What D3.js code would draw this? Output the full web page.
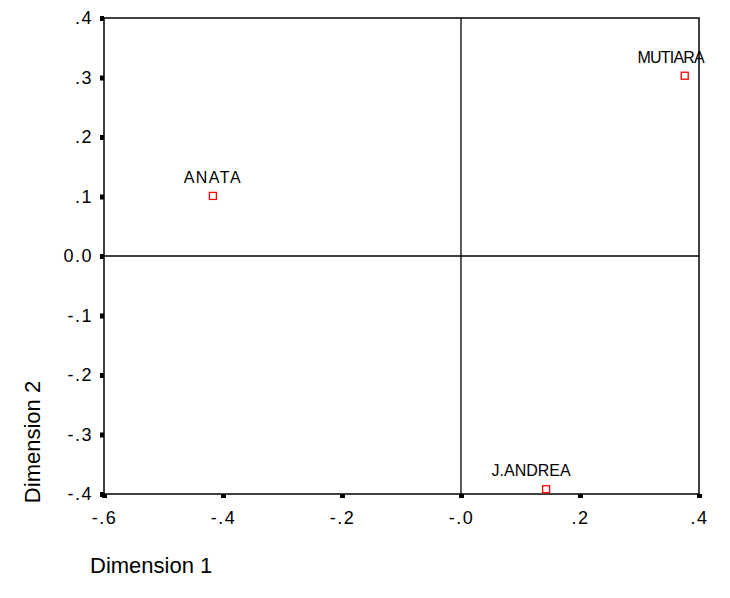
<!DOCTYPE html>
<html>
<head>
<meta charset="utf-8">
<script src="https://cdn.jsdelivr.net/npm/d3@7"></script>
<style>
  body { margin: 0; background: #fff; }
  text { font-family: Arial, "Liberation Sans", sans-serif; fill: #000; }
</style>
</head>
<body>
<div id="chart"></div>
<script>
// data
var names = ["ANATA", "MUTIARA", "J.ANDREA"];
var dim1 = [-0.417, 0.376, 0.143];
var dim2 = [0.101, 0.303, -0.392];
var xTicks = [-0.6, -0.4, -0.2, 0, 0.2, 0.4];
var xTickLabels = ["-.6", "-.4", "-.2", "-.0", ".2", ".4"];
var yTicks = [-0.4, -0.3, -0.2, -0.1, 0, 0.1, 0.2, 0.3, 0.4];
var yTickLabels = ["-.4", "-.3", "-.2", "-.1", "0.0", ".1", ".2", ".3", ".4"];

// label nudges (px) so the point labels sit like in the original
var labelDx = { "ANATA": 0, "MUTIARA": -14, "J.ANDREA": -15 };
var labelSpacing = { "ANATA": 1.5, "MUTIARA": -0.8, "J.ANDREA": 0 };

var W = 730, H = 598;
var plotLeft = 104, plotRight = 699, plotTop = 18, plotBottom = 494;

var svg = d3.select('#chart').append('svg')
    .attr('width', W)
    .attr('height', H);

var x = d3.scaleLinear().domain([-0.6, 0.4]).range([plotLeft, plotRight]);
var y = d3.scaleLinear().domain([-0.4, 0.4]).range([plotBottom, plotTop]);

// frame
svg.append('rect')
    .attr('x', plotLeft).attr('y', plotTop)
    .attr('width', plotRight - plotLeft).attr('height', plotBottom - plotTop)
    .attr('fill', 'none').attr('stroke', '#000').attr('stroke-width', 1.5);

// reference lines through zero
svg.append('line')
    .attr('x1', x(0)).attr('x2', x(0)).attr('y1', plotTop).attr('y2', plotBottom)
    .attr('stroke', '#000').attr('stroke-width', 1.3);
svg.append('line')
    .attr('x1', plotLeft).attr('x2', plotRight).attr('y1', y(0)).attr('y2', y(0))
    .attr('stroke', '#000').attr('stroke-width', 1.3);

// x axis (tick marks are small squares)
var xAxis = d3.axisBottom(x)
    .tickValues(xTicks)
    .tickSize(0)
    .tickPadding(17)
    .tickFormat(function (d, i) { return xTickLabels[i]; });
var gx = svg.append('g')
    .attr('transform', 'translate(0,' + plotBottom + ')')
    .call(xAxis);
gx.select('.domain').remove();
gx.selectAll('.tick text')
    .attr('font-size', 18)
    .attr('letter-spacing', 1.5)
    .attr('font-family', 'Arial, "Liberation Sans", sans-serif');
gx.selectAll('.tick').append('rect')
    .attr('x', -2.5).attr('y', 0).attr('width', 5).attr('height', 4)
    .attr('fill', '#000');

// y axis
var yAxis = d3.axisLeft(y)
    .tickValues(yTicks)
    .tickSize(0)
    .tickPadding(11)
    .tickFormat(function (d, i) { return yTickLabels[i]; });
var gy = svg.append('g')
    .attr('transform', 'translate(' + plotLeft + ',0)')
    .call(yAxis);
gy.select('.domain').remove();
gy.selectAll('.tick text')
    .attr('font-size', 18)
    .attr('letter-spacing', 1.5)
    .attr('font-family', 'Arial, "Liberation Sans", sans-serif');
gy.selectAll('.tick').append('rect')
    .attr('x', -4).attr('y', -2.5).attr('width', 4).attr('height', 5)
    .attr('fill', '#000');

// points
var pts = names.map(function (n, i) { return { name: n, d1: dim1[i], d2: dim2[i] }; });

svg.selectAll('rect.pt')
    .data(pts)
    .enter().append('rect')
    .attr('class', 'pt')
    .attr('x', function (d) { return x(d.d1) - 3.5; })
    .attr('y', function (d) { return y(d.d2) - 3.5; })
    .attr('width', 7).attr('height', 7)
    .attr('fill', 'none')
    .attr('stroke', '#f00')
    .attr('stroke-width', 1.3);

svg.selectAll('text.lbl')
    .data(pts)
    .enter().append('text')
    .attr('class', 'lbl')
    .attr('x', function (d) { return x(d.d1) + labelDx[d.name]; })
    .attr('y', function (d) { return y(d.d2) - 13; })
    .attr('text-anchor', 'middle')
    .attr('font-size', 16)
    .attr('letter-spacing', function (d) { return labelSpacing[d.name]; })
    .text(function (d) { return d.name; });

// axis titles
svg.append('text')
    .attr('x', 90).attr('y', 573)
    .attr('font-size', 22)
    .text('Dimension 1');
svg.append('text')
    .attr('transform', 'translate(40,442) rotate(-90)')
    .attr('text-anchor', 'middle')
    .attr('font-size', 22)
    .text('Dimension 2');
</script>
</body>
</html>
